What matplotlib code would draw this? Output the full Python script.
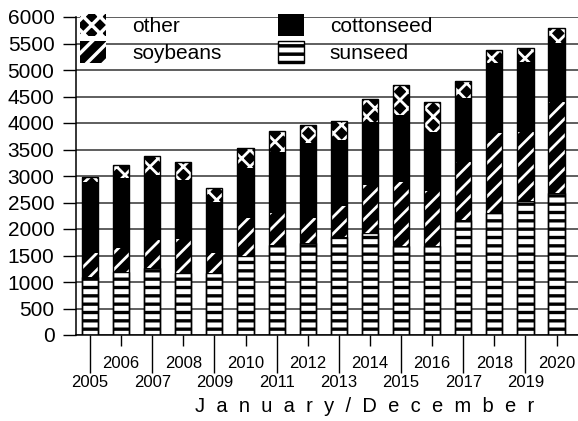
import matplotlib
matplotlib.use("Agg")
import matplotlib.pyplot as plt
import numpy as np

plt.rcParams['font.family'] = ['Liberation Sans', 'DejaVu Sans']
plt.rcParams['hatch.linewidth'] = 2.5

# data (1000 t)
years = list(range(2005, 2021))
sunseed = [1100, 1180, 1260, 1165, 1175, 1490, 1700, 1730, 1855, 1930, 1680, 1680, 2170, 2295, 2530, 2675]
soybeans = [440, 455, 530, 640, 365, 710, 595, 470, 580, 900, 1215, 1040, 1100, 1525, 1305, 1725]
cottonseed = [1350, 1320, 1230, 1120, 975, 960, 1165, 1415, 1245, 1195, 1255, 1115, 1195, 1305, 1325, 1105]
other = [100, 255, 360, 335, 255, 360, 395, 345, 360, 420, 570, 555, 335, 255, 260, 295]


def set_hlw(bars, lw):
    # per-bar hatch line width (where the matplotlib version supports it)
    for p in bars:
        if hasattr(p, 'set_hatch_linewidth'):
            p.set_hatch_linewidth(lw)


fig = plt.figure(figsize=(5.78, 4.21), dpi=100)
ax = fig.add_axes([76 / 578, 1 - 335 / 421, 1 - 76 / 578, (335 - 17) / 421])

x = np.arange(len(years))
w = 0.52
sun = np.array(sunseed)
soy = np.array(soybeans)
cot = np.array(cottonseed)
oth = np.array(other)

with plt.rc_context({'hatch.linewidth': 2.4}):
    b1 = ax.bar(x, sun, w, color='white', edgecolor='black', hatch='--', linewidth=1, label='sunseed')
with plt.rc_context({'hatch.linewidth': 2.0}):
    b2 = ax.bar(x, soy, w, bottom=sun, color='black', edgecolor='white', hatch='//', linewidth=0, label='soybeans')
b3 = ax.bar(x, cot, w, bottom=sun + soy, color='black', edgecolor='black', linewidth=0, label='cottonseed')
with plt.rc_context({'hatch.linewidth': 2.0}):
    b4 = ax.bar(x, oth, w, bottom=sun + soy + cot, color='black', edgecolor='white', hatch='xx', linewidth=0, label='other')
set_hlw(b1, 2.4)
set_hlw(b2, 2.0)
set_hlw(b4, 2.0)
# outline of whole column
ax.bar(x, sun + soy + cot + oth, w, fill=False, edgecolor='black', linewidth=1)

ax.set_ylim(0, 6000)
ax.set_xlim(-0.45, 15.69)
ax.set_yticks(range(0, 6001, 500))
ax.tick_params(axis='y', labelsize=15, length=9.5, width=1, pad=6, direction='out')

# odd years: long ticks, lower row; even years: short ticks, upper row
ax.set_xticks(x[::2])
ax.set_xticklabels([str(y) for y in years[::2]])
ax.set_xticks(x[1::2], minor=True)
ax.set_xticklabels([str(y) for y in years[1::2]], minor=True)
ax.tick_params(axis='x', which='major', labelsize=12, length=27, width=1, pad=2, direction='out')
ax.tick_params(axis='x', which='minor', labelsize=12, length=8, width=1, pad=7, direction='out')

ax.yaxis.grid(True, color='#333333', linewidth=1.1)
ax.set_axisbelow(True)
ax.spines['right'].set_visible(False)
ax.spines['top'].set_visible(False)
for s in ['left', 'bottom']:
    ax.spines[s].set_linewidth(1.1)

ax.legend([b4, b2, b3, b1], ['other', 'soybeans', 'cottonseed', 'sunseed'],
          ncol=2, frameon=False, fontsize=15, loc='upper left',
          bbox_to_anchor=(80 / 578, 1 - 14 / 421), bbox_transform=fig.transFigure,
          borderpad=0, borderaxespad=0, handlelength=1.25, handleheight=1.25,
          handletextpad=1.25, columnspacing=2.7, labelspacing=0.25)

fig.text(365 / 578, 1 - 406 / 421, '  '.join('January/December'), ha='center', va='center', fontsize=14.5)

fig.savefig('out.png', dpi=100)
